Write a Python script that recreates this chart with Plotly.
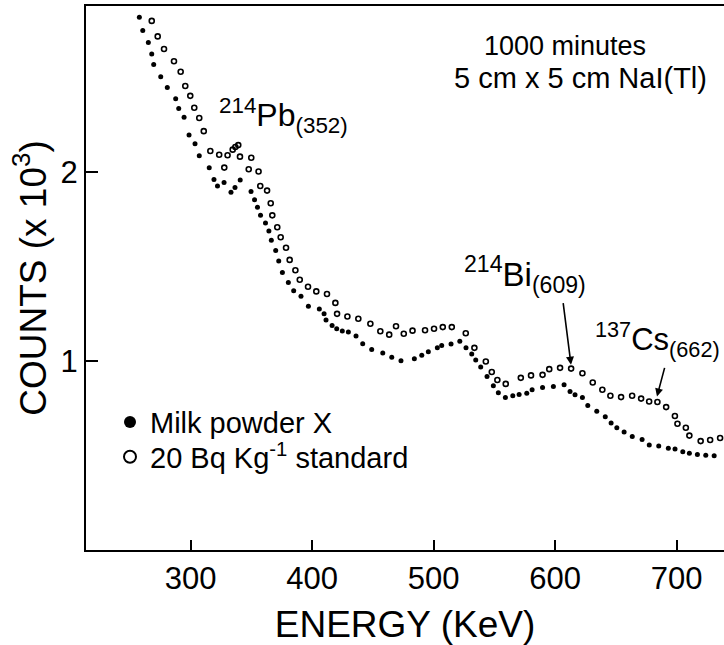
import plotly.graph_objects as go

# ---- data ----
milk_energy = [257.9, 260.7, 265.3, 268.1, 269.7, 275.5, 280.9, 287.8, 290.3, 294.7,
               298.8, 303.7, 307.2, 315.4, 319.3, 322.2, 327.6, 333.3, 336.6, 340.9,
               349.8, 352.7, 355.1, 357.6, 361.7, 364.5, 366.5, 370.1, 372.6, 375.6,
               380.5, 384.9, 390.9, 397.0, 406.0, 409.9, 411.5, 416.5, 420.3, 424.9,
               429.9, 436.2, 441.7, 449.1, 458.2, 465.6, 473.2, 484.2, 490.3, 495.7,
               503.1, 506.7, 514.4, 521.6, 526.7, 531.4, 534.7, 538.8, 544.0, 549.2,
               553.3, 559.1, 565.2, 570.4, 576.7, 581.1, 589.7, 598.6, 607.4, 612.3,
               616.4, 622.5, 626.9, 634.3, 641.3, 646.1, 650.8, 656.8, 663.5, 671.6,
               677.5, 685.3, 693.2, 698.7, 705.1, 710.5, 717.1, 724.0, 730.9]
milk_counts = [2.822, 2.752, 2.689, 2.628, 2.572, 2.507, 2.450, 2.390, 2.339, 2.292,
               2.199, 2.152, 2.088, 2.025, 1.963, 1.929, 1.947, 1.895, 1.920, 1.960,
               1.899, 1.856, 1.816, 1.774, 1.732, 1.690, 1.641, 1.587, 1.531, 1.470,
               1.417, 1.374, 1.344, 1.291, 1.277, 1.251, 1.219, 1.190, 1.172, 1.160,
               1.155, 1.134, 1.093, 1.062, 1.044, 1.021, 1.003, 1.013, 1.032, 1.050,
               1.071, 1.083, 1.092, 1.106, 1.072, 1.038, 1.006, 0.969, 0.919, 0.870,
               0.833, 0.808, 0.817, 0.824, 0.831, 0.849, 0.861, 0.866, 0.875, 0.840,
               0.823, 0.808, 0.765, 0.735, 0.706, 0.673, 0.648, 0.625, 0.601, 0.586,
               0.556, 0.551, 0.539, 0.535, 0.520, 0.513, 0.506, 0.502, 0.499]

std_energy = [268.1, 273.0, 278.2, 286.4, 291.9, 295.7, 299.8, 303.1, 307.2, 310.9,
              316.3, 323.6, 327.8, 330.5, 334.7, 336.9, 339.3, 340.7, 347.9, 350.0,
              356.0, 357.4, 363.0, 366.0, 367.3, 371.4, 374.2, 378.6, 381.6, 386.3,
              389.9, 396.7, 403.5, 412.3, 419.2, 420.6, 429.1, 438.1, 448.0, 456.2,
              463.5, 469.1, 475.5, 482.7, 493.0, 500.4, 507.6, 515.0, 526.5, 533.6,
              543.0, 547.9, 552.5, 559.4, 571.8, 580.2, 589.7, 595.2, 604.1, 613.2,
              622.5, 631.0, 638.9, 645.5, 654.3, 663.4, 670.8, 677.4, 684.2, 691.4,
              698.6, 700.7, 707.6, 710.5, 719.8, 727.6, 735.8]
std_counts = [2.803, 2.721, 2.654, 2.589, 2.534, 2.458, 2.406, 2.343, 2.289, 2.219,
              2.114, 2.094, 2.026, 2.091, 2.121, 2.135, 2.145, 2.084, 2.017, 2.078,
              2.005, 1.928, 1.904, 1.837, 1.773, 1.710, 1.657, 1.601, 1.537, 1.482,
              1.432, 1.395, 1.370, 1.356, 1.309, 1.251, 1.237, 1.225, 1.199, 1.159,
              1.141, 1.185, 1.146, 1.162, 1.164, 1.172, 1.181, 1.181, 1.148, 1.071,
              0.999, 0.943, 0.901, 0.880, 0.912, 0.925, 0.928, 0.958, 0.965, 0.961,
              0.936, 0.887, 0.849, 0.817, 0.810, 0.817, 0.802, 0.787, 0.784, 0.757,
              0.710, 0.669, 0.648, 0.606, 0.577, 0.583, 0.593]

x_ticks = [300, 400, 500, 600, 700]
y_ticks = [1, 2]
y_tick_labels = ["1", "2"]

FONT = "Liberation Sans"
W, H = 724, 645
ML, MR, MT, MB = 86, 0, 6, 90


def px(x):
    return (x - ML) / (W - ML - MR)


def py(y):
    return (H - MB - y) / (H - MT - MB)


fig = go.Figure()
fig.add_trace(go.Scatter(
    x=milk_energy, y=milk_counts, mode="markers", name="Milk powder X",
    marker=dict(symbol="circle", size=5, color="black"), legend="legend",
))
fig.add_trace(go.Scatter(
    x=std_energy, y=std_counts, mode="markers", name="20 Bq Kg<sup>-1</sup> standard",
    marker=dict(symbol="circle-open", size=5, color="black", line=dict(width=1.6, color="black")),
    legend="legend2",
))

annotations = [
    dict(text="1000 minutes", x=px(565), y=py(46), xref="paper", yref="paper",
         xanchor="center", yanchor="middle", showarrow=False, font=dict(size=27)),
    dict(text="5 cm x 5 cm NaI(Tl)", x=px(580), y=py(79), xref="paper", yref="paper",
         xanchor="center", yanchor="middle", showarrow=False, font=dict(size=29)),
    dict(text="<sup>214</sup>Pb<sub>(352)</sub>", x=px(217), y=py(117), xref="paper", yref="paper",
         xanchor="left", yanchor="middle", showarrow=False, font=dict(size=32)),
    dict(text="<sup>214</sup>Bi<sub>(609)</sub>", x=px(462), y=py(277), xref="paper", yref="paper",
         xanchor="left", yanchor="middle", showarrow=False, font=dict(size=33)),
    dict(text="<sup>137</sup>Cs<sub>(662)</sub>", x=px(593), y=py(343), xref="paper", yref="paper",
         xanchor="left", yanchor="middle", showarrow=False, font=dict(size=31)),
    dict(text="", x=px(571), y=py(368), xref="paper", yref="paper", showarrow=True,
         ax=-8, ay=-63, arrowhead=2, arrowsize=1, arrowwidth=1.6, arrowcolor="black"),
    dict(text="", x=px(657), y=py(400), xref="paper", yref="paper", showarrow=True,
         ax=8, ay=-30, arrowhead=2, arrowsize=1, arrowwidth=1.6, arrowcolor="black"),
]

axis_common = dict(showgrid=False, zeroline=False, showline=True, linecolor="black",
                   linewidth=2, ticks="inside", tickcolor="black", tickwidth=2,
                   tickfont=dict(size=31, color="black", family=FONT))

legend_common = dict(x=px(110), xanchor="left", yanchor="middle",
                     font=dict(size=29, color="black", family=FONT), itemsizing="constant",
                     bgcolor="rgba(0,0,0,0)")

fig.update_layout(
    width=W, height=H,
    margin=dict(l=ML, r=MR, t=MT, b=MB, pad=0),
    paper_bgcolor="white", plot_bgcolor="white",
    font=dict(family=FONT, color="black"),
    xaxis=dict(range=[214, 739], tickvals=x_ticks, ticklen=10, mirror=True,
               title=dict(text="ENERGY (KeV)", font=dict(size=37), standoff=23),
               **axis_common),
    yaxis=dict(range=[0, 2.882], tickvals=y_ticks, ticktext=y_tick_labels, ticklen=12,
               title=dict(text="COUNTS (x 10<sup>3</sup>)", font=dict(size=37), standoff=3),
               **axis_common),
    showlegend=True,
    legend=dict(y=py(426), **legend_common),
    legend2=dict(y=py(461), **legend_common),
    annotations=annotations,
)

fig.write_html("out.html",
               config={"displayModeBar": False},
               post_script="document.body.style.margin='0px';"
                           "document.documentElement.style.overflow='hidden';")
